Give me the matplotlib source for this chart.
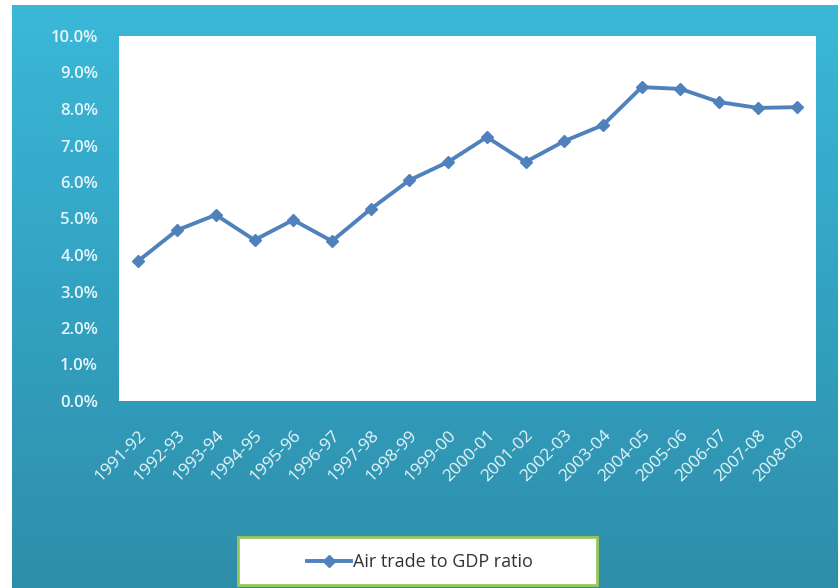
import numpy as np
import matplotlib.pyplot as plt
from matplotlib.colors import LinearSegmentedColormap
from matplotlib.ticker import PercentFormatter
from matplotlib.patches import Rectangle

years = ["1991-92", "1992-93", "1993-94", "1994-95", "1995-96", "1996-97",
         "1997-98", "1998-99", "1999-00", "2000-01", "2001-02", "2002-03",
         "2003-04", "2004-05", "2005-06", "2006-07", "2007-08", "2008-09"]
ratio = [3.84, 4.68, 5.10, 4.41, 4.96, 4.38, 5.26, 6.05, 6.55,
         7.23, 6.55, 7.12, 7.56, 8.60, 8.55, 8.19, 8.03, 8.05]

W, H = 838, 588
fig = plt.figure(figsize=(W / 100, H / 100), dpi=100)
fig.patch.set_facecolor("white")
plt.rcParams['font.family'] = ['Open Sans', 'DejaVu Sans']

# teal gradient panel behind the chart
bg = fig.add_axes([12 / W, 0, 1 - 12 / W, 1 - 5 / H])
grad = LinearSegmentedColormap.from_list("teal", ["#2e8ea9", "#33a2c2", "#3bb8d8"])
bg.imshow(np.linspace(0, 1, 256).reshape(-1, 1), aspect="auto", cmap=grad,
          origin="lower", extent=[0, 1, 0, 1])
bg.axis("off")

ax = fig.add_axes([119 / W, 1 - 401 / H, (816 - 119) / W, (401 - 36) / H])
ax.set_facecolor("white")
x = np.arange(len(years))
ax.plot(x, ratio, color="#4f81bd", lw=2.8, marker="D", ms=6.5,
        label="Air trade to GDP ratio")
ax.set_xlim(-0.5, len(years) - 0.5)
ax.set_ylim(0, 10)
ax.set_yticks(np.arange(0, 11, 1))
ax.yaxis.set_major_formatter(PercentFormatter(decimals=1))
ax.set_xticks(x)
ax.set_xticklabels(years, rotation=45, ha="right", rotation_mode="anchor")
ax.tick_params(axis="y", length=0, pad=15, labelsize=12, labelcolor="#e6f6fa")
ax.tick_params(axis="x", length=0, pad=19, labelsize=12.5, labelcolor="#e6f6fa")
for t in ax.get_yticklabels():
    t.set_fontweight("semibold")
for s in ax.spines.values():
    s.set_visible(False)

# legend box at the bottom
box = Rectangle((238 / W, 0.005), (597 - 238) / W, (585 - 537) / H,
                transform=fig.transFigure, facecolor="white",
                edgecolor="#9bc75a", lw=2, zorder=5)
fig.patches.append(box)
h, l = ax.get_legend_handles_labels()
fig.legend(h, l, loc="center", bbox_to_anchor=(420 / W, 1 - 562 / H),
           frameon=False, fontsize=13, handlelength=2.4, handletextpad=0.1,
           labelcolor="#333333")

fig.savefig("out.png", dpi=100)
